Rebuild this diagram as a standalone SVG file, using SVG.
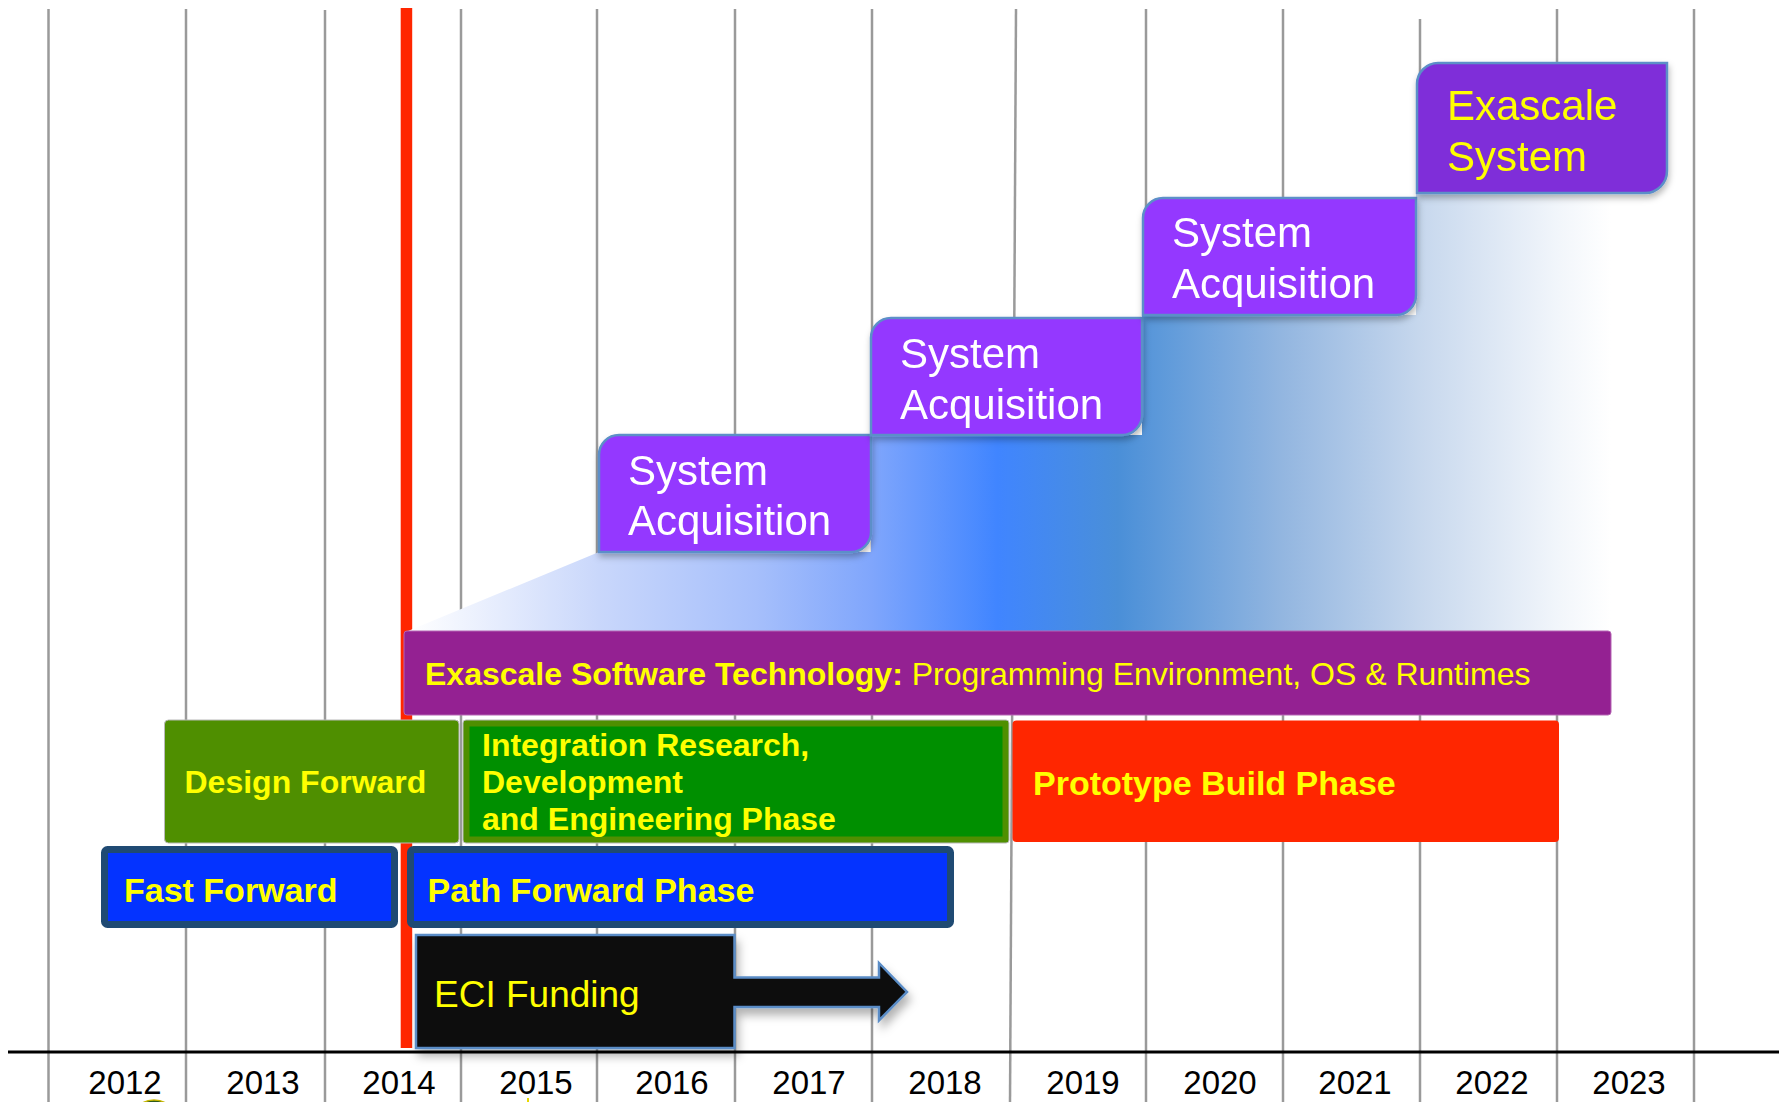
<svg xmlns="http://www.w3.org/2000/svg" width="1779" height="1102" viewBox="0 0 1779 1102">
<style>
  .grid { stroke: #9a9a9a; stroke-width: 2.5; fill: none; }
  .year { font-family: "Liberation Sans", Arial, sans-serif; font-size: 33px; fill: #000; text-anchor: middle; }
  .sa { fill: #9437ff; stroke: #5b8fc8; stroke-width: 2.5; }
  .sa4 { fill: #7f2fd9; stroke: #5b8fc8; stroke-width: 2.5; }
  .satext { font-family: "Liberation Sans", Arial, sans-serif; font-size: 42px; fill: #ffffff; }
  .ytext { fill: #ffff00; }
  .bold { font-family: "Liberation Sans", Arial, sans-serif; font-weight: bold; fill: #ffff00; }
  .reg { font-family: "Liberation Sans", Arial, sans-serif; fill: #ffff00; }
  .blue { fill: #0433ff; stroke: #1f4a73; stroke-width: 7; }
</style>
<defs>
  <linearGradient id="grad" gradientUnits="userSpaceOnUse" x1="408" y1="0" x2="1611" y2="0">
    <stop offset="0" stop-color="#ffffff"/>
    <stop offset="0.159" stop-color="#c9d7fb"/>
    <stop offset="0.29" stop-color="#a6bffb"/>
    <stop offset="0.385" stop-color="#80a6fc"/>
    <stop offset="0.49" stop-color="#4085ff"/>
    <stop offset="0.59" stop-color="#4a8fd8"/>
    <stop offset="0.727" stop-color="#93b6e0"/>
    <stop offset="0.84" stop-color="#c6d7ed"/>
    <stop offset="0.957" stop-color="#f2f6fb"/>
    <stop offset="1" stop-color="#ffffff"/>
  </linearGradient>
  <filter id="shadow" x="-10%" y="-10%" width="130%" height="140%">
    <feDropShadow dx="1" dy="4" stdDeviation="3" flood-color="#000" flood-opacity="0.28"/>
  </filter>
  <filter id="shadow2" x="-10%" y="-10%" width="130%" height="140%">
    <feDropShadow dx="3" dy="7" stdDeviation="5" flood-color="#000" flood-opacity="0.3"/>
  </filter>
</defs>
<rect x="0" y="0" width="1779" height="1102" fill="#ffffff"/>

<g id="grid">
  <line class="grid" x1="48.5" y1="9" x2="48.5" y2="1102"/>
  <line class="grid" x1="186" y1="9" x2="186" y2="1102"/>
  <line class="grid" x1="325" y1="10" x2="325" y2="1102"/>
  <line class="grid" x1="461" y1="9" x2="461" y2="1102"/>
  <line class="grid" x1="597" y1="9" x2="597" y2="1102"/>
  <line class="grid" x1="735" y1="9" x2="735" y2="1102"/>
  <line class="grid" x1="872" y1="9" x2="872" y2="1102"/>
  <line class="grid" x1="1016" y1="9" x2="1010" y2="1102"/>
  <line class="grid" x1="1146" y1="9" x2="1146" y2="1102"/>
  <line class="grid" x1="1283" y1="9" x2="1283" y2="1102"/>
  <line class="grid" x1="1420" y1="19" x2="1420" y2="1102"/>
  <line class="grid" x1="1557" y1="9" x2="1557" y2="1102"/>
  <line class="grid" x1="1694" y1="9" x2="1694" y2="1102"/>
</g>

<g id="today-line">
  <rect x="400.7" y="8" width="11.5" height="1040" fill="#ff2600"/>
</g>

<g id="growth-area">
  <polygon points="408,631 599,552 871,552 871,435 1142,435 1142,315 1416,315 1416,193 1611,193 1611,632 408,632" fill="url(#grad)"/>
</g>

<g id="system-acquisition-1" filter="url(#shadow)">
  <path class="sa" d="M599,455 A20,20 0 0 1 619,435 H871 V532 A20,20 0 0 1 851,552 H599 Z"/>
  <text class="satext" x="628" y="485">System</text>
  <text class="satext" x="628" y="535">Acquisition</text>
</g>
<g id="system-acquisition-2" filter="url(#shadow)">
  <path class="sa" d="M871,338 A20,20 0 0 1 891,318 H1142 V415 A20,20 0 0 1 1122,435 H871 Z"/>
  <text class="satext" x="900" y="368">System</text>
  <text class="satext" x="900" y="419">Acquisition</text>
</g>
<g id="system-acquisition-3" filter="url(#shadow)">
  <path class="sa" d="M1143,218 A20,20 0 0 1 1163,198 H1416 V295 A20,20 0 0 1 1396,315 H1143 Z"/>
  <text class="satext" x="1172" y="247">System</text>
  <text class="satext" x="1172" y="298">Acquisition</text>
</g>
<g id="exascale-system" filter="url(#shadow)">
  <path class="sa4" d="M1417,84 A21,21 0 0 1 1438,63 H1667 V171 A22,22 0 0 1 1645,193 H1417 Z"/>
  <text class="satext ytext" x="1447" y="120">Exascale</text>
  <text class="satext ytext" x="1447" y="171">System</text>
</g>

<g id="exascale-software-technology">
  <rect x="404" y="631" width="1207" height="84" rx="3" fill="#942192" stroke="#b565b3" stroke-width="1"/>
  <text x="425" y="685" font-size="32"><tspan class="bold">Exascale Software Technology:</tspan><tspan class="reg"> Programming Environment, OS &amp; Runtimes</tspan></text>
</g>

<g id="design-forward">
  <rect x="164.5" y="720" width="294.5" height="123" rx="4" fill="#4f8f00" stroke="#b9b9b9" stroke-width="1"/>
  <text class="bold" x="184.5" y="793" font-size="32">Design Forward</text>
</g>

<g id="integration-phase">
  <rect x="463" y="720" width="546" height="123" rx="3" fill="#4f8f00" stroke="#b9b9b9" stroke-width="1"/>
  <rect x="469.5" y="726.5" width="533" height="110" fill="#008f00"/>
  <text class="bold" x="482" y="756" font-size="32">Integration Research,</text>
  <text class="bold" x="482" y="793" font-size="32">Development</text>
  <text class="bold" x="482" y="830" font-size="32">and Engineering Phase</text>
</g>

<g id="prototype-build-phase">
  <rect x="1012.5" y="720.5" width="546.5" height="121.5" rx="4" fill="#ff2600"/>
  <text class="bold" x="1033" y="795" font-size="34">Prototype Build Phase</text>
</g>

<g id="fast-forward">
  <rect class="blue" x="104.5" y="849.5" width="290" height="75" rx="3"/>
  <text class="bold" x="124" y="902" font-size="34">Fast Forward</text>
</g>

<g id="path-forward-phase">
  <rect class="blue" x="410.5" y="849.5" width="540" height="75" rx="3"/>
  <text class="bold" x="427.5" y="902" font-size="34">Path Forward Phase</text>
</g>

<g id="eci-funding">
  <path d="M416,935 H734.5 V977.5 H879 V963 L907,992 L879,1020.5 V1007 H734.5 V1048 H416 Z" fill="#0d0d0d" stroke="#5a8cc6" stroke-width="2.5" filter="url(#shadow2)"/>
  <text class="reg" x="434" y="1007" font-size="37">ECI Funding</text>
</g>

<g id="connectors"></g>

<g id="axis">
  <line x1="8" y1="1052" x2="1779" y2="1052" stroke="#000" stroke-width="3"/>
  <text class="year" x="125" y="1094">2012</text>
  <text class="year" x="263" y="1094">2013</text>
  <text class="year" x="399" y="1094">2014</text>
  <text class="year" x="536" y="1094">2015</text>
  <text class="year" x="672" y="1094">2016</text>
  <text class="year" x="809" y="1094">2017</text>
  <text class="year" x="945" y="1094">2018</text>
  <text class="year" x="1083" y="1094">2019</text>
  <text class="year" x="1220" y="1094">2020</text>
  <text class="year" x="1355" y="1094">2021</text>
  <text class="year" x="1492" y="1094">2022</text>
  <text class="year" x="1629" y="1094">2023</text>
</g>

<g id="cropped-marks">
  <ellipse cx="154" cy="1118" rx="21" ry="18" fill="#2f5a1c" stroke="#c9b800" stroke-width="1.5"/>
  <rect x="527" y="1098" width="2" height="4" fill="#e8d800"/>
</g>
</svg>
